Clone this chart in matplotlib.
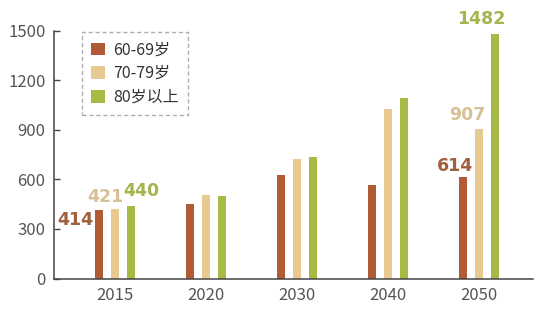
import matplotlib.pyplot as plt
import numpy as np

plt.rcParams['font.family'] = ['Noto Sans CJK SC', 'DejaVu Sans']

# Daten
years = ['2015', '2020', '2030', '2040', '2050']
age_60_69 = [414, 452, 624, 565, 614]
age_70_79 = [421, 505, 721, 1023, 907]
age_80_up = [440, 497, 733, 1093, 1482]
series_names = ['60-69岁', '70-79岁', '80岁以上']
y_ticks = [0, 300, 600, 900, 1200, 1500]

bar_colors = ['#B05A36', '#E8C992', '#A6BA45']
text_colors = ['#A0603E', '#D6C096', '#A6B44E']

fig = plt.figure(figsize=(5.5, 3.22), dpi=100)
ax = fig.add_axes([0.098, 0.135, 0.871, 0.770])

x = np.arange(len(years))
step = 0.176
width = 0.093
all_series = [age_60_69, age_70_79, age_80_up]
for i, (vals, name) in enumerate(zip(all_series, series_names)):
    ax.bar(x + (i - 1) * step, vals, width, color=bar_colors[i], label=name)

# Beschriftungen (nur 2015 und 2050)
lbl = dict(fontsize=12.5, fontweight='bold', family='DejaVu Sans')
ax.text(x[0] - step - 0.06, age_60_69[0] - 60, str(age_60_69[0]),
        color=text_colors[0], ha='right', va='center', **lbl)
ax.text(x[0] - 0.11, age_70_79[0] + 20, str(age_70_79[0]),
        color=text_colors[1], ha='center', va='bottom', **lbl)
ax.text(x[0] + step + 0.11, age_80_up[0] + 35, str(age_80_up[0]),
        color=text_colors[2], ha='center', va='bottom', **lbl)
ax.text(x[4] - step - 0.09, age_60_69[4] + 12, str(age_60_69[4]),
        color=text_colors[0], ha='center', va='bottom', **lbl)
ax.text(x[4] - 0.13, age_70_79[4] + 30, str(age_70_79[4]),
        color=text_colors[1], ha='center', va='bottom', **lbl)
ax.text(x[4] + step - 0.15, age_80_up[4] + 35, str(age_80_up[4]),
        color=text_colors[2], ha='center', va='bottom', **lbl)

ax.set_xlim(-0.67, 4.59)
ax.set_ylim(0, 1500)
ax.set_xticks(x)
ax.set_xticklabels(years)
ax.set_yticks(y_ticks)
ax.tick_params(axis='x', length=0, pad=6, labelsize=12, labelcolor='#555555')
ax.tick_params(axis='y', direction='in', length=4, width=1, color='#444444',
               pad=6, labelsize=12, labelcolor='#555555')
for s in ['top', 'right']:
    ax.spines[s].set_visible(False)
for s in ['left', 'bottom']:
    ax.spines[s].set_color('#444444')
    ax.spines[s].set_linewidth(1.1)

leg = ax.legend(loc='upper left', bbox_to_anchor=(0.058, 0.995), borderaxespad=0,
                fontsize=11.5, frameon=True, fancybox=False,
                handlelength=0.85, handleheight=0.85, handletextpad=0.5,
                labelspacing=0.42, borderpad=0.6, labelcolor='#333333')
frame = leg.get_frame()
frame.set_edgecolor('#999999')
frame.set_linestyle((0, (3, 2)))
frame.set_linewidth(1.0)

fig.savefig('out.png', dpi=100)
